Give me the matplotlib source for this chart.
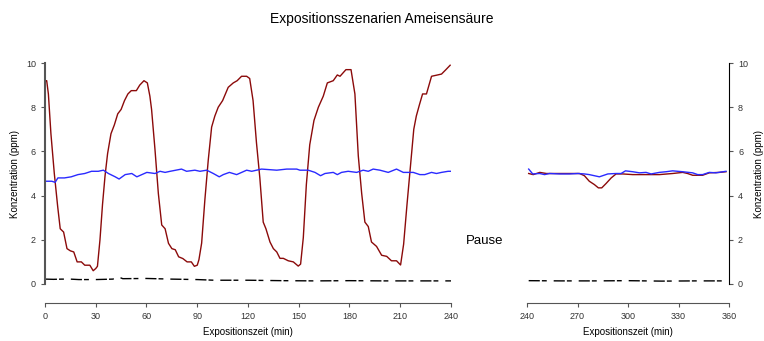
import matplotlib.pyplot as plt

plt.rcParams['font.family'] = ['Liberation Sans', 'DejaVu Sans']

# Phase 1: 0-240 min, wechselnde Konzentration
red_t1 = [0.5, 1, 2, 3.5, 5.5, 7.5, 9, 11, 13, 15, 17, 19, 21.5, 23.5, 26.5, 28.5, 30, 31,
          32.5, 34, 35.5, 37, 39, 41, 43, 45, 47, 49, 51, 54, 56, 58.5, 60.5, 62, 63,
          65, 67, 69, 71, 73, 75, 77, 79, 81.5, 84, 86.5, 88.3, 90, 91, 92.6, 94.5,
          96.5, 98.5, 100.4, 102.4, 105, 108.3, 111.3, 113.6, 116.2, 119.2, 121, 123,
          125, 127, 129, 130.6, 133, 135, 137, 138.9, 140.9, 143.8, 146.8, 149.7,
          151.1, 152.7, 154.5, 156.5, 159, 161.6, 164.5, 166.9, 170.4, 172.8, 174.4,
          177.9, 180.9, 183.2, 185.2, 187.2, 189.1, 191.1, 193, 196, 199, 202, 204.8,
          207.8, 210.2, 212, 214, 216, 218, 219.5, 221.3, 223.2, 225.5, 228.5, 231.5,
          234.4, 237, 239.5]
red_c1 = [9.2, 9.2, 8.6, 6.8, 5.0, 3.5, 2.5, 2.35, 1.6, 1.5, 1.45, 1.0, 1.0, 0.85, 0.85,
          0.6, 0.7, 0.8, 2.0, 3.6, 4.9, 5.9, 6.8, 7.2, 7.7, 7.9, 8.3, 8.6, 8.75, 8.75,
          9.0, 9.2, 9.1, 8.5, 7.9, 6.1, 4.1, 2.67, 2.5, 1.84, 1.6, 1.55, 1.23, 1.15,
          1.0, 1.0, 0.8, 0.85, 1.1, 1.85, 3.8, 5.6, 7.1, 7.6, 8.0, 8.3, 8.9, 9.1, 9.2,
          9.4, 9.4, 9.3, 8.3, 6.4, 4.8, 2.8, 2.5, 1.9, 1.6, 1.45, 1.16, 1.16, 1.05,
          1.0, 0.81, 0.9, 2.1, 4.5, 6.3, 7.4, 8.0, 8.5, 9.1, 9.2, 9.46, 9.4, 9.7, 9.7,
          8.6, 5.8, 4.1, 2.8, 2.6, 1.9, 1.7, 1.3, 1.25, 1.05, 1.05, 0.86, 1.8, 3.6,
          5.3, 7.0, 7.6, 8.1, 8.6, 8.6, 9.4, 9.45, 9.5, 9.7, 9.9]

blue_t1 = [0.5, 4, 6, 7.6, 11.5, 15.5, 19.5, 23.5, 27.5, 31.5, 34.5, 37.5, 41.5, 43.8,
           47.4, 51.3, 54.3, 60.2, 65, 68, 71, 74, 80.7, 83.7, 88.6, 91.6, 95.6, 99.5,
           103, 105.4, 109, 113.3, 119.2, 122.2, 128, 137, 142.9, 148.8, 150.7, 155.6,
           159.6, 162.9, 165.5, 170.4, 172.8, 175.3, 179.2, 184.2, 188.1, 191.1, 194,
           198, 202.9, 207.8, 211.8, 217.7, 221.6, 224.5, 228.5, 231.4, 234.4, 238.3,
           240]
blue_c1 = [4.65, 4.65, 4.6, 4.8, 4.8, 4.85, 4.95, 5.0, 5.1, 5.1, 5.15, 5.0, 4.85, 4.75,
           4.95, 5.0, 4.85, 5.05, 5.0, 5.1, 5.05, 5.1, 5.2, 5.1, 5.15, 5.1, 5.15, 5.0,
           4.85, 4.95, 5.05, 4.95, 5.15, 5.1, 5.2, 5.15, 5.2, 5.2, 5.15, 5.15, 5.05,
           4.9, 5.0, 5.05, 4.95, 5.05, 5.1, 5.05, 5.15, 5.1, 5.2, 5.15, 5.05, 5.2,
           5.05, 5.05, 4.95, 4.95, 5.05, 5.0, 5.05, 5.1, 5.1]

black_t1 = [0.5, 5, 10, 15, 20, 30, 40, 44, 46, 60, 75, 90, 100, 120, 140, 160, 180,
            200, 220, 240]
black_c1 = [0.22, 0.21, 0.22, 0.22, 0.2, 0.2, 0.22, 0.3, 0.24, 0.25, 0.22, 0.2, 0.17,
            0.17, 0.15, 0.14, 0.15, 0.14, 0.14, 0.14]

# Phase 2: 240-360 min, konstante Konzentration
red_t2 = [241, 243.7, 247.6, 251.5, 259.4, 271.2, 274.1, 277, 280, 282.4, 284.4, 287,
          290, 292.9, 296.9, 302.8, 310.7, 318.6, 326.5, 332.5, 335.4, 338.4, 344.3,
          348.3, 354.2, 358.2]
red_c2 = [5.0, 4.95, 5.05, 5.0, 5.0, 5.0, 4.9, 4.65, 4.5, 4.35, 4.35, 4.55, 4.8, 4.98,
          4.98, 4.95, 4.95, 4.95, 5.0, 5.05, 5.0, 4.92, 4.92, 5.03, 5.05, 5.08]

blue_t2 = [241, 243.4, 247.5, 250.4, 253.4, 259.3, 265.2, 270.2, 274.1, 277, 283, 288,
           292.9, 295.9, 298.5, 302.8, 306.8, 310.7, 313.7, 318.6, 322.6, 326.5, 332.5,
           338.4, 341.4, 344.3, 348.3, 352.2, 358.2]
blue_c2 = [5.2, 4.98, 5.0, 4.95, 5.0, 4.98, 4.98, 5.0, 4.98, 4.95, 4.85, 4.98, 5.0, 5.0,
           5.12, 5.08, 5.03, 5.05, 4.98, 5.05, 5.08, 5.12, 5.08, 5.03, 4.95, 4.95,
           5.05, 5.03, 5.1]

black_t2 = [241, 260, 280, 300, 320, 340, 358]
black_c2 = [0.15, 0.14, 0.14, 0.15, 0.13, 0.14, 0.14]

red = '#8b0a0a'
blue = '#2a2aff'
grey = '#555555'
dash = (0, (8, 1.5, 3.5, 5))

fig = plt.figure(figsize=(7.64, 3.41), dpi=100)
ax1 = fig.add_axes([0.0589, 0.1672, 0.5314, 0.648])
ax2 = fig.add_axes([0.6898, 0.1672, 0.2644, 0.648])

for ax in (ax1, ax2):
    ax.set_ylim(0, 10)
    ax.set_yticks([0, 2, 4, 6, 8, 10])
    ax.spines['top'].set_visible(False)
    ax.spines['bottom'].set_position(('outward', 14))
    ax.spines['bottom'].set_color(grey)
    ax.tick_params(direction='out', length=3, width=0.8, labelsize=6.5,
                   colors=grey, labelcolor='#333333')
    ax.set_xlabel('Expositionszeit (min)', fontsize=7, labelpad=4)

ax1.plot(red_t1, red_c1, color=red, lw=1)
ax1.plot(blue_t1, blue_c1, color=blue, lw=1)
ax1.plot(black_t1, black_c1, color='black', lw=1, linestyle=dash)
ax1.set_xlim(0, 240)
ax1.set_xticks(range(0, 241, 30))
ax1.spines['right'].set_visible(False)
ax1.spines['left'].set_color(grey)
ax1.spines['left'].set_linewidth(1.5)
ax1.set_ylabel('Konzentration (ppm)', fontsize=7, labelpad=4)

ax2.plot(red_t2, red_c2, color=red, lw=1)
ax2.plot(blue_t2, blue_c2, color=blue, lw=1)
ax2.plot(black_t2, black_c2, color='black', lw=1, linestyle=dash)
ax2.set_xlim(240, 360)
ax2.set_xticks(range(240, 361, 30))
ax2.spines['left'].set_visible(False)
ax2.yaxis.tick_right()
ax2.yaxis.set_label_position('right')
ax2.set_ylabel('Konzentration (ppm)', fontsize=7, labelpad=4)

fig.text(0.634, 0.293, 'Pause', fontsize=9.5, ha='center', va='center')
fig.suptitle('Expositionsszenarien Ameisensäure', fontsize=10, y=0.965)

fig.savefig('out.png', dpi=100)
